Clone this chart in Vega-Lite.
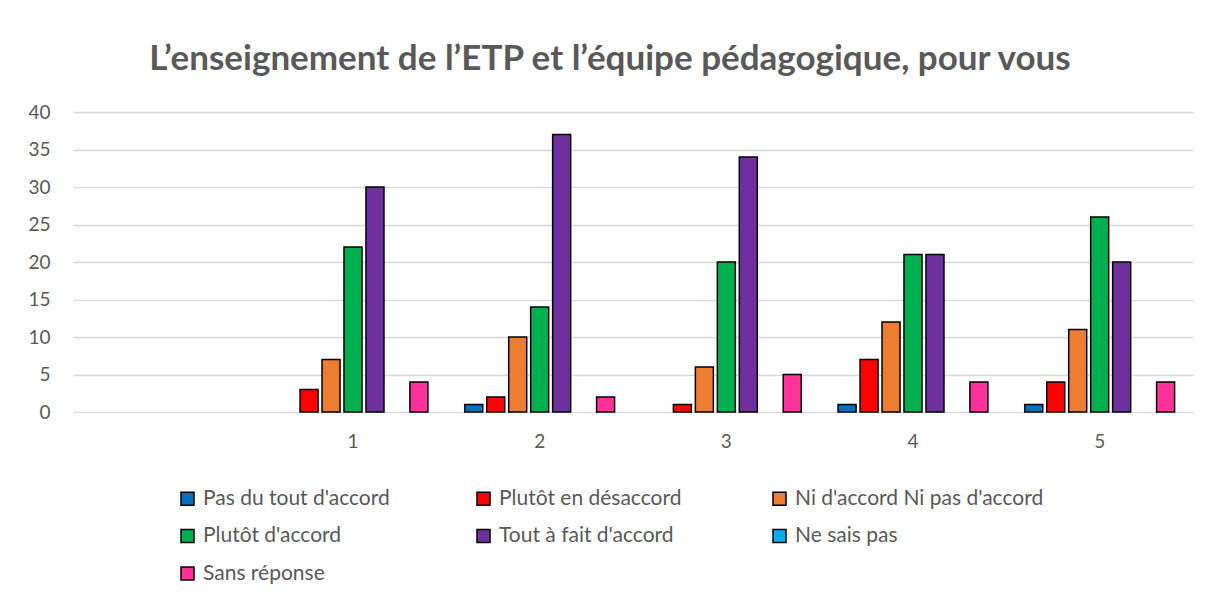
{
  "$schema": "https://vega.github.io/schema/vega-lite/v6.json",
  "autosize": {"type": "none"},
  "width": 1120,
  "height": 300,
  "padding": {"left": 73, "top": 112, "right": 17, "bottom": 203},
  "background": "white",
  "title": {
    "text": "L’enseignement de l’ETP et l’équipe pédagogique, pour vous",
    "font": "Lato",
    "fontSize": 35,
    "fontWeight": "bold",
    "color": "#595959",
    "anchor": "middle",
    "baseline": "alphabetic",
    "dx": -23,
    "dy": 34,
    "offset": 32
  },
  "data": {
    "values": [
      {"q": 1, "serie": "Pas du tout d'accord", "value": 0},
      {"q": 1, "serie": "Plutôt en désaccord", "value": 3},
      {"q": 1, "serie": "Ni d'accord Ni pas d'accord", "value": 7},
      {"q": 1, "serie": "Plutôt d'accord", "value": 22},
      {"q": 1, "serie": "Tout à fait d'accord", "value": 30},
      {"q": 1, "serie": "Ne sais pas", "value": 0},
      {"q": 1, "serie": "Sans réponse", "value": 4},
      {"q": 2, "serie": "Pas du tout d'accord", "value": 1},
      {"q": 2, "serie": "Plutôt en désaccord", "value": 2},
      {"q": 2, "serie": "Ni d'accord Ni pas d'accord", "value": 10},
      {"q": 2, "serie": "Plutôt d'accord", "value": 14},
      {"q": 2, "serie": "Tout à fait d'accord", "value": 37},
      {"q": 2, "serie": "Ne sais pas", "value": 0},
      {"q": 2, "serie": "Sans réponse", "value": 2},
      {"q": 3, "serie": "Pas du tout d'accord", "value": 0},
      {"q": 3, "serie": "Plutôt en désaccord", "value": 1},
      {"q": 3, "serie": "Ni d'accord Ni pas d'accord", "value": 6},
      {"q": 3, "serie": "Plutôt d'accord", "value": 20},
      {"q": 3, "serie": "Tout à fait d'accord", "value": 34},
      {"q": 3, "serie": "Ne sais pas", "value": 0},
      {"q": 3, "serie": "Sans réponse", "value": 5},
      {"q": 4, "serie": "Pas du tout d'accord", "value": 1},
      {"q": 4, "serie": "Plutôt en désaccord", "value": 7},
      {"q": 4, "serie": "Ni d'accord Ni pas d'accord", "value": 12},
      {"q": 4, "serie": "Plutôt d'accord", "value": 21},
      {"q": 4, "serie": "Tout à fait d'accord", "value": 21},
      {"q": 4, "serie": "Ne sais pas", "value": 0},
      {"q": 4, "serie": "Sans réponse", "value": 4},
      {"q": 5, "serie": "Pas du tout d'accord", "value": 1},
      {"q": 5, "serie": "Plutôt en désaccord", "value": 4},
      {"q": 5, "serie": "Ni d'accord Ni pas d'accord", "value": 11},
      {"q": 5, "serie": "Plutôt d'accord", "value": 26},
      {"q": 5, "serie": "Tout à fait d'accord", "value": 20},
      {"q": 5, "serie": "Ne sais pas", "value": 0},
      {"q": 5, "serie": "Sans réponse", "value": 4}
    ]
  },
  "transform": [{"filter": "datum.value > 0"}],
  "mark": {"type": "bar", "stroke": "black", "strokeWidth": 1.5},
  "encoding": {
    "x": {
      "field": "q",
      "type": "ordinal",
      "scale": {"domain": [0, 1, 2, 3, 4, 5], "paddingInner": 0.176, "paddingOuter": 0.088},
      "axis": {
        "title": null,
        "labelAngle": 0,
        "labelExpr": "datum.value == 0 ? '' : datum.label",
        "domain": false,
        "ticks": false,
        "labelPadding": 20,
        "labelFont": "Lato",
        "labelFontSize": 19,
        "labelColor": "#595959",
        "grid": false
      }
    },
    "xOffset": {
      "field": "serie",
      "type": "nominal",
      "scale": {
        "domain": ["Pas du tout d'accord", "Plutôt en désaccord", "Ni d'accord Ni pas d'accord", "Plutôt d'accord", "Tout à fait d'accord", "Ne sais pas", "Sans réponse"],
        "paddingInner": 0.18,
        "paddingOuter": 0.09
      }
    },
    "y": {
      "field": "value",
      "type": "quantitative",
      "scale": {"domain": [0, 40], "nice": false},
      "axis": {
        "title": null,
        "values": [0, 5, 10, 15, 20, 25, 30, 35, 40],
        "domain": false,
        "ticks": false,
        "labelPadding": 23,
        "labelFont": "Lato",
        "labelFontSize": 19,
        "labelColor": "#595959",
        "gridColor": "#d9d9d9",
        "gridWidth": 1.3
      }
    },
    "color": {
      "field": "serie",
      "type": "nominal",
      "scale": {
        "domain": ["Pas du tout d'accord", "Plutôt en désaccord", "Ni d'accord Ni pas d'accord", "Plutôt d'accord", "Tout à fait d'accord", "Ne sais pas", "Sans réponse"],
        "range": ["#0070C0", "#FF0000", "#ED7D31", "#00B050", "#7030A0", "#00B0F0", "#FF3399"]
      },
      "legend": {
        "title": null,
        "orient": "none",
        "legendX": 104,
        "legendY": 376,
        "direction": "horizontal",
        "columns": 3,
        "gridAlign": "all",
        "columnPadding": 21,
        "rowPadding": 15.5,
        "symbolType": "square",
        "symbolSize": 169,
        "symbolStrokeColor": "black",
        "symbolStrokeWidth": 1.5,
        "symbolOpacity": 1,
        "labelOffset": 5,
        "labelFont": "Lato",
        "labelFontSize": 21,
        "labelColor": "#595959",
        "labelLimit": 400
      }
    }
  },
  "config": {"view": {"stroke": null}}
}
